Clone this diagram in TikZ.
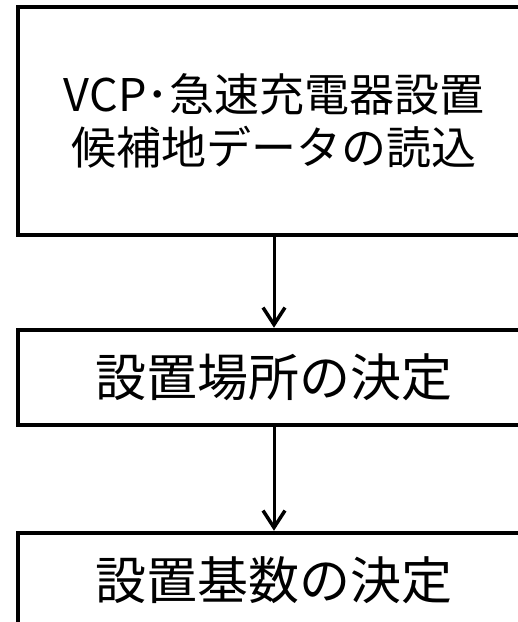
\documentclass[tikz,border=0pt]{standalone}
\usepackage{fontspec}
\setmainfont{Noto Sans CJK JP}
\usetikzlibrary{arrows.meta}
\tikzset{
  flowbox/.style={draw=black, line width=4.5pt, fill=white, minimum width=512pt, inner sep=0pt, align=center},
  flowarrow/.style={line width=3pt, -{Straight Barb[length=17pt,width=22pt,line width=3.5pt]}}
}
\begin{document}
\begin{tikzpicture}[x=1pt,y=-1pt]
\useasboundingbox (0,0) rectangle (518,622);
\clip (0,0) rectangle (518,622);
\node[flowbox, minimum height=228pt, font=\fontsize{45}{53}\selectfont] (b1) at (274,121) {VCP･急速充電器設置\\候補地データの読込};
\node[flowbox, minimum height=95pt, font=\fontsize{51}{60}\selectfont] (b2) at (274,377.5) {設置場所の決定};
\node[flowbox, minimum height=95pt, font=\fontsize{51}{60}\selectfont] (b3) at (274,580.5) {設置基数の決定};
\draw[flowarrow] (b1.south) -- (b2.north);
\draw[flowarrow] (b2.south) -- (b3.north);
\end{tikzpicture}
\end{document}
